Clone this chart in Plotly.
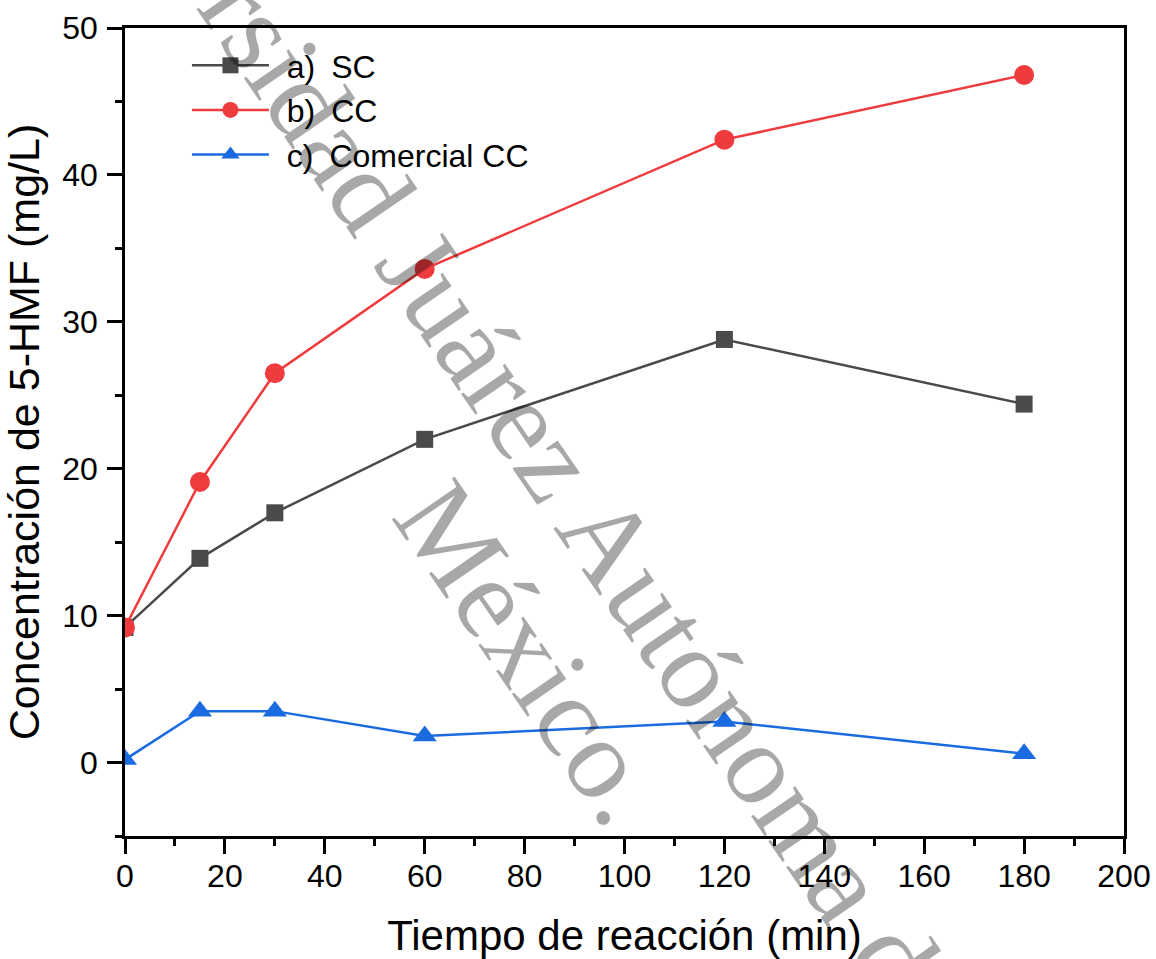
import plotly.graph_objects as go

# ---- data ----
time_min = [0, 15, 30, 60, 120, 180]
sc_values = [9.2, 13.9, 17.0, 22.0, 28.8, 24.4]
cc_values = [9.2, 19.1, 26.5, 33.6, 42.4, 46.8]
comercial_cc_values = [0.2, 3.5, 3.5, 1.8, 2.8, 0.6]

series_names = ["\u2009\u2009a)\u2002SC", "\u2009\u2009b)\u2002CC", "\u2009\u2009c)\u2002Comercial CC"]
x_title = "Tiempo de reacción (min)"
y_title = "Concentración de 5-HMF (mg/L)"
watermark_line1 = "Universidad Juárez Autónoma de Tabasco."
watermark_line2 = "México."

FONT = "Liberation Sans, Arial, sans-serif"
GRAY, RED, BLUE = "#4a4a4a", "#ef3b3d", "#1b6be0"

fig = go.Figure()
fig.add_trace(go.Scatter(x=time_min, y=sc_values, name=series_names[0], mode="lines+markers",
                         line=dict(color=GRAY, width=2.5),
                         marker=dict(symbol="square", size=17, color=GRAY)))
fig.add_trace(go.Scatter(x=time_min, y=cc_values, name=series_names[1], mode="lines+markers",
                         line=dict(color=RED, width=2.5),
                         marker=dict(symbol="circle", size=20, color=RED)))
fig.add_trace(go.Scatter(x=time_min, y=comercial_cc_values, name=series_names[2], mode="lines+markers",
                         line=dict(color=BLUE, width=2.5),
                         marker=dict(symbol="triangle-up", size=21, color=BLUE)))

axis_common = dict(showgrid=False, zeroline=False, showline=True, linecolor="black", linewidth=2.5,
                   mirror=True, ticks="outside", ticklen=15, tickwidth=2.5, tickcolor="black",
                   automargin=False,
                   tickfont=dict(family=FONT, size=32, color="black"))

fig.update_xaxes(range=[0, 200], tick0=0, dtick=20, ticklabelstandoff=-5,
                 minor=dict(ticks="outside", ticklen=7, tickwidth=2.5, tickcolor="black", dtick=10, tick0=0),
                 title=dict(text=x_title, font=dict(family=FONT, size=42, color="black"), standoff=40),
                 **axis_common)
fig.update_yaxes(range=[-5, 50], tick0=0, dtick=10, ticklabelstandoff=3,
                 minor=dict(ticks="outside", ticklen=7, tickwidth=2.5, tickcolor="black", dtick=5, tick0=0),
                 title=dict(text=y_title, font=dict(family=FONT, size=43, color="black"), standoff=10),
                 **axis_common)

wm_font = dict(family="Liberation Serif, Times New Roman, serif", size=116, color="rgba(0,0,0,0.34)")
fig.add_annotation(text=watermark_line1, xref="paper", yref="paper", x=0.502, y=0.334,
                   xanchor="center", yanchor="middle", textangle=55.5, showarrow=False, font=wm_font)
fig.add_annotation(text=watermark_line2, xref="paper", yref="paper", x=0.4064, y=0.2265,
                   xanchor="center", yanchor="middle", textangle=55.5, showarrow=False, font=wm_font)

fig.update_layout(
    width=1156, height=959,
    margin=dict(l=125, r=32, t=28, b=123, autoexpand=False),
    paper_bgcolor="white", plot_bgcolor="white",
    font=dict(family=FONT, color="black"),
    legend=dict(x=0.062, y=0.9876, xanchor="left", yanchor="top", bgcolor="rgba(0,0,0,0)",
                borderwidth=0, font=dict(family=FONT, size=32, color="black"),
                itemwidth=77, tracegroupgap=0),
    showlegend=True,
)

fig.write_html("out.html")
